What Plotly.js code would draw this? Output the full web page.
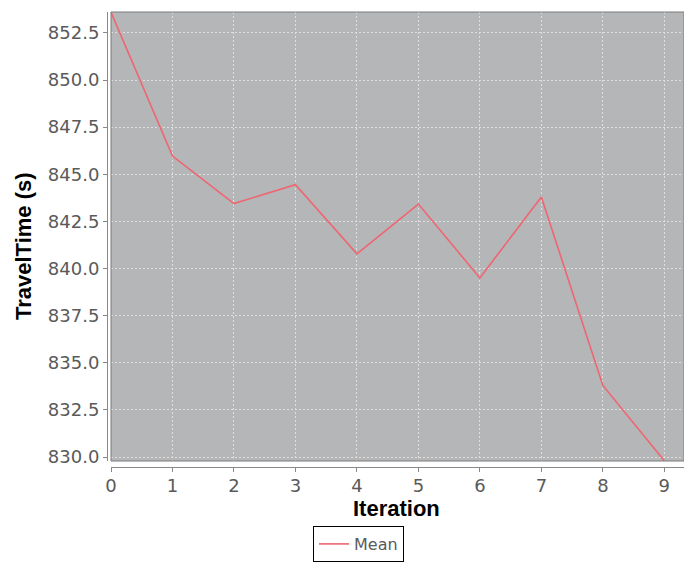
<!DOCTYPE html>
<html>
<head>
<meta charset="utf-8">
<script src="https://cdn.plot.ly/plotly-3.0.1.min.js"></script>
<style>
html,body{margin:0;padding:0;background:#fff;}
#chart{width:684px;height:563px;}
</style>
</head>
<body>
<div id="chart"></div>
<script>
// Data
const iterations = [0, 1, 2, 3, 4, 5, 6, 7, 8, 9];
const meanTravelTime = [853.6, 845.97, 843.45, 844.45, 840.78, 843.42, 839.5, 843.8, 833.8, 829.8];
const seriesName = 'Mean';
const xTitle = 'Iteration';
const yTitle = 'TravelTime (s)';

const W = 684, H = 563;
const mL = 107, mR = 0, mT = 12, mB = 96;
const pw = W - mL - mR, ph = H - mT - mB;

const trace = {
  x: iterations,
  y: meanTravelTime,
  type: 'scatter',
  mode: 'lines',
  name: seriesName,
  line: {color: '#ee6672', width: 1.6},
  showlegend: true
};

const tickFont = {family: 'DejaVu Sans, sans-serif', size: 18, color: '#5a5a5a'};

const layout = {
  width: W, height: H,
  margin: {l: mL, r: mR, t: mT, b: mB, pad: 0},
  paper_bgcolor: '#ffffff',
  plot_bgcolor: '#b5b6b8',
  showlegend: true,
  xaxis: {
    domain: [4 / pw, 1],
    anchor: 'free', position: 0,
    range: [0, 9.32],
    dtick: 1, tick0: 0,
    showline: true, linecolor: '#888888', linewidth: 1,
    ticks: 'outside', ticklen: 4, tickcolor: '#888888',
    ticklabelstandoff: -2,
    tickfont: tickFont,
    showgrid: true, gridcolor: '#dedede', gridwidth: 1, griddash: '2px,2px',
    zeroline: false,
    title: {text: ''}
  },
  yaxis: {
    domain: [6 / ph, 1],
    anchor: 'free', position: 0,
    range: [829.79, 853.61],
    dtick: 2.5, tick0: 830,
    tickformat: '.1f',
    showline: true, linecolor: '#888888', linewidth: 1,
    ticks: 'outside', ticklen: 4, tickcolor: '#888888',
    tickfont: tickFont,
    showgrid: true, gridcolor: '#dedede', gridwidth: 1, griddash: '2px,2px',
    zeroline: false,
    title: {text: ''}
  },
  shapes: [{
    type: 'rect', xref: 'x domain', yref: 'y domain',
    x0: 0, x1: 1, y0: 0, y1: 1,
    line: {color: '#7a7a7a', width: 1}
  }],
  annotations: [
    {
      text: xTitle, xref: 'paper', yref: 'paper',
      x: (396 - mL) / pw, y: (mT + ph - 508.5) / ph,
      xanchor: 'center', yanchor: 'middle', showarrow: false,
      font: {family: 'Liberation Sans, Arial, sans-serif', size: 22, color: '#000000', weight: 'bold'}
    },
    {
      text: yTitle, xref: 'paper', yref: 'paper',
      x: (24 - mL) / pw, y: (mT + ph - 246) / ph,
      xanchor: 'center', yanchor: 'middle', showarrow: false, textangle: -90,
      font: {family: 'Liberation Sans, Arial, sans-serif', size: 22, color: '#000000', weight: 'bold'}
    }
  ],
  legend: {
    x: (313 - mL) / pw, y: (mT + ph - 562) / ph,
    xanchor: 'left', yanchor: 'bottom',
    bgcolor: '#ffffff', bordercolor: '#000000', borderwidth: 1,
    font: {family: 'DejaVu Sans, sans-serif', size: 16, color: '#5a5a5a'},
    itemwidth: 30, tracegroupgap: 0
  }
};

Plotly.newPlot('chart', [trace], layout, {displayModeBar: false, staticPlot: true});
</script>
</body>
</html>
